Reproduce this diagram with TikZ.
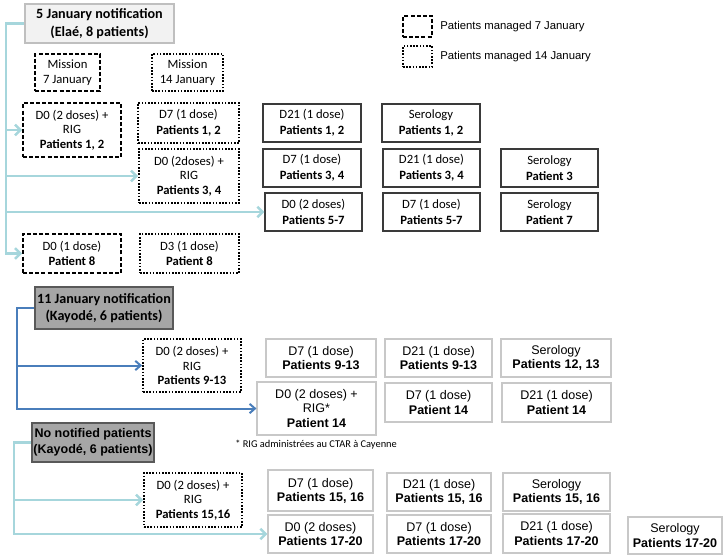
\documentclass[tikz,border=0pt]{standalone}
\usepackage{fontspec}
\setmainfont{Carlito}
\newfontfamily\arialf{Liberation Sans}
\usetikzlibrary{arrows.meta}
\definecolor{lblue}{HTML}{A6D6DC}
\definecolor{dblue}{HTML}{4A7EBB}
\definecolor{hdrfill}{HTML}{F2F2F2}
\definecolor{hdrline}{HTML}{BFBFBF}
\definecolor{hdrdfill}{HTML}{A6A6A6}
\definecolor{hdrdline}{HTML}{595959}
\definecolor{greyline}{HTML}{C8C8C8}
\definecolor{solidline}{HTML}{3A3A3A}
\newcommand\calA{\fontsize{9.5}{10.8}\selectfont}
\newcommand\ariA{\arialf\fontsize{9.4}{10.6}\selectfont}
\newcommand\drawbx[7]{%
 \pgfmathsetmacro\pbw{(#4-#2)*0.75}%
 \pgfmathsetmacro\pbh{(#5-#3)*0.75}%
 \node[#6, minimum width=\pbw pt, minimum height=\pbh pt] (#1) at ({(#2+#4)/2},{(#3+#5)/2}) {#7};}
\tikzset{
 anybox/.style={align=center, inner sep=1pt, text=black},
 hdrA/.style={anybox, draw=hdrline, fill=hdrfill, line width=1.6pt, font=\fontsize{10.6}{13}\selectfont\bfseries},
 hdrB/.style={anybox, draw=hdrdline, fill=hdrdfill, line width=1.8pt, font=\fontsize{10.6}{13}\selectfont\bfseries},
 hdrC/.style={anybox, draw=hdrdline, fill=hdrdfill, line width=1.8pt, font=\arialf\fontsize{9.4}{12}\selectfont\bfseries},
 dashbox/.style={anybox, draw=black, line width=1.2pt, dash pattern=on 3pt off 1.6pt, font=\calA},
 dotbox/.style={anybox, draw=black, line width=1.3pt, dash pattern=on 1.2pt off 1.2pt, font=\calA},
 solidbox/.style={anybox, draw=solidline, line width=0.8pt, font=\calA},
 greybox/.style={anybox, draw=greyline, line width=0.8pt, font=\ariA},
 lbline/.style={draw=lblue, line width=1.9pt, -{Straight Barb[length=4pt,width=8pt]}},
 dbline/.style={draw=dblue, line width=1.5pt, -{Straight Barb[length=4pt,width=7pt]}},
 legtext/.style={anchor=west, inner sep=0pt, font=\arialf\fontsize{8.5}{10}\selectfont}
}
\begin{document}
\begin{tikzpicture}[x=0.75pt,y=-0.75pt]
\useasboundingbox (0,0) rectangle (726,558);
% header 1 block
\drawbx{h1}{25}{4}{174}{43}{hdrA}{5 January notification\\(Elaé, 8 patients)}
\drawbx{m7}{35}{54}{100}{91}{dashbox}{Mission\\7 January}
\drawbx{m14}{152}{54}{223}{91}{dotbox}{Mission\\14 January}
\drawbx{a1}{23}{103}{121}{157}{dashbox}{D0 (2 doses) +\\RIG\\\textbf{Patients 1, 2}}
\drawbx{a2}{138}{103}{239}{143}{dotbox}{D7 (1 dose)\\[1pt]\textbf{Patients 1, 2}}
\drawbx{a3}{263}{104}{361}{142}{solidbox}{D21 (1 dose)\\[1pt]\textbf{Patients 1, 2}}
\drawbx{a4}{382}{104}{480}{142}{solidbox}{Serology\\[1pt]\textbf{Patients 1, 2}}
\drawbx{b1}{139}{149}{239}{203}{dotbox}{D0 (2doses) +\\RIG\\\textbf{Patients 3, 4}}
\drawbx{b2}{263}{149}{361}{187}{solidbox}{D7 (1 dose)\\[1pt]\textbf{Patients 3, 4}}
\drawbx{b3}{383}{149}{480}{187}{solidbox}{D21 (1 dose)\\[1pt]\textbf{Patients 3, 4}}
\drawbx{b4}{501}{149}{598}{187}{solidbox}{Serology\\[1pt]\textbf{Patient 3}}
\drawbx{c1}{265}{193}{362}{231}{solidbox}{D0 (2 doses)\\[1pt]\textbf{Patients 5-7}}
\drawbx{c2}{383}{193}{480}{231}{solidbox}{D7 (1 dose)\\[1pt]\textbf{Patients 5-7}}
\drawbx{c3}{501}{193}{598}{231}{solidbox}{Serology\\[1pt]\textbf{Patient 7}}
\drawbx{d1}{23}{234}{121}{273}{dashbox}{D0 (1 dose)\\[1pt]\textbf{Patient 8}}
\drawbx{d2}{140}{234}{239}{273}{dotbox}{D3 (1 dose)\\[1pt]\textbf{Patient 8}}
% legend
\drawbx{l1}{403}{16}{432}{37}{dashbox}{}
\drawbx{l2}{403}{46}{432}{67}{dotbox}{}
\node[legtext] (lt1) at (440,27) {Patients managed 7 January};
\node[legtext] (lt2) at (440,57) {Patients managed 14 January};
% header 2 block
\drawbx{h2}{35}{287}{173}{329}{hdrB}{11 January notification\\(Kayodé, 6 patients)}
\drawbx{e1}{143}{339}{241}{392}{dotbox}{D0 (2 doses) +\\RIG\\\textbf{Patients 9-13}}
\drawbx{e2}{266}{339}{376}{377}{greybox}{D7 (1 dose)\\\textbf{Patients 9-13}}
\drawbx{e3}{385}{339}{492}{377}{greybox}{D21 (1 dose)\\\textbf{Patients 9-13}}
\drawbx{e4}{501}{339}{611}{377}{greybox}{Serology\\\textbf{Patients 12, 13}}
\drawbx{f1}{257}{382}{376}{435}{greybox}{D0 (2 doses) +\\RIG*\\\textbf{Patient 14}}
\drawbx{f2}{385}{383}{492}{422}{greybox}{D7 (1 dose)\\\textbf{Patient 14}}
\drawbx{f3}{502}{383}{611}{422}{greybox}{D21 (1 dose)\\\textbf{Patient 14}}
\node[anchor=west, inner sep=0pt, font=\fontsize{7.8}{9}\selectfont] (fn) at (235,445) {* RIG administrées au CTAR à Cayenne};
% header 3 block
\drawbx{h3}{32}{423}{154}{462}{hdrC}{No notified patients\\(Kayodé, 6 patients)}
\drawbx{g1}{144}{473}{242}{527}{dotbox}{D0 (2 doses) +\\RIG\\\textbf{Patients 15,16}}
\drawbx{g2}{268}{470}{373}{511}{greybox}{D7 (1 dose)\\\textbf{Patients 15, 16}}
\drawbx{g3}{387}{473}{491}{511}{greybox}{D21 (1 dose)\\\textbf{Patients 15, 16}}
\drawbx{g4}{503}{473}{610}{511}{greybox}{Serology\\\textbf{Patients 15, 16}}
\drawbx{k1}{268}{515}{373}{553}{greybox}{D0 (2 doses)\\\textbf{Patients 17-20}}
\drawbx{k2}{387}{515}{491}{553}{greybox}{D7 (1 dose)\\\textbf{Patients 17-20}}
\drawbx{k3}{503}{514}{610}{553}{greybox}{D21 (1 dose)\\\textbf{Patients 17-20}}
\drawbx{k4}{628}{517}{722}{554}{greybox}{Serology\\\textbf{Patients 17-20}}
% connectors
\coordinate (t1) at (6,0);
\coordinate (t2) at (17,0);
\coordinate (t3) at (14,0);
\foreach \tg in {a1,b1,c1,d1}{
 \draw[lbline] (h1.west) -- (h1.west -| t1) |- (\tg.west);
}
\foreach \tg in {e1,f1}{
 \draw[dbline] (h2.west) -- (h2.west -| t2) |- (\tg.west);
}
\foreach \tg in {g1,k1}{
 \draw[lbline] (h3.west) -- (h3.west -| t3) |- (\tg.west);
}
\end{tikzpicture}
\end{document}
